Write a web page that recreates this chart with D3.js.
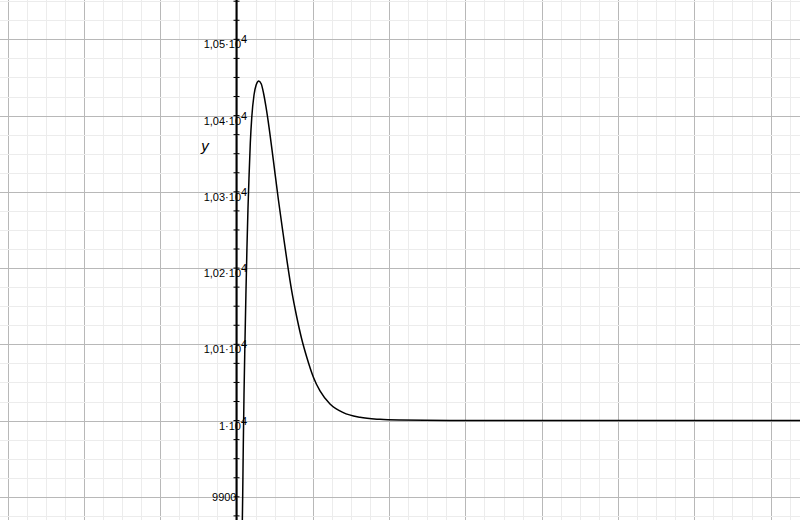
<!DOCTYPE html>
<html>
<head>
<meta charset="utf-8">
<script src="https://cdn.jsdelivr.net/npm/d3@7"></script>
<style>
  body { margin: 0; background: #fff; }
  svg { display: block; }
  text { font-family: "Liberation Sans", Arial, sans-serif; }
</style>
</head>
<body>
<div id="chart"></div>
<script>
// curve (x in grid units, y in value units)
const xs = [0.0747, 0.0813, 0.0891, 0.0983, 0.1101, 0.1232, 0.1363, 0.1507, 0.1651, 0.1809,
            0.2005, 0.2294, 0.2595, 0.2923, 0.3250, 0.3539, 0.3866, 0.4260, 0.4823, 0.5478,
            0.6134, 0.6658, 0.7235, 0.7890, 0.8545, 0.9201, 1.0066, 1.0944, 1.2254, 1.3997,
            1.6186, 1.8807, 2.1429, 2.798, 3.5, 5, 7.4];
const ys = [9856.5, 9902.4, 9968, 10033.6, 10099.1, 10164.7, 10223.7, 10278.8, 10322.1, 10364.1,
            10398.2, 10427, 10440.8, 10445.4, 10441.4, 10429.6, 10411.3, 10385, 10341.8, 10290.6,
            10243.4, 10206.7, 10170, 10136.2, 10107, 10083.4, 10057.2, 10038.8, 10021.8, 10010.5,
            10004.3, 10001.6, 10000.7, 10000.1, 10000, 10000, 10000];
const yTicks = [9900, 10000, 10100, 10200, 10300, 10400, 10500];

const width = 800, height = 520;

const svg = d3.select("#chart").append("svg")
  .attr("width", width)
  .attr("height", height);

const x = d3.scaleLinear().domain([-3.0996, 7.3853]).range([0, width]);
const y = d3.scaleLinear().domain([9869.6, 10551.6]).range([height, 0]);

// grid: 4 minor steps per major step
const grid = svg.append("g").attr("shape-rendering", "crispEdges");
grid.selectAll(".v")
  .data(d3.range(-3, 7.5, 0.25))
  .enter().append("line")
  .attr("x1", d => Math.round(x(d)) + 0.5).attr("x2", d => Math.round(x(d)) + 0.5)
  .attr("y1", 0).attr("y2", height)
  .attr("stroke", d => Number.isInteger(d) ? "#b8b8b8" : "#ececec");
grid.selectAll(".h")
  .data(d3.range(9875, 10551, 25))
  .enter().append("line")
  .attr("y1", d => Math.round(y(d)) + 0.5).attr("y2", d => Math.round(y(d)) + 0.5)
  .attr("x1", 0).attr("x2", width)
  .attr("stroke", d => d % 100 === 0 ? "#b8b8b8" : "#ececec");

// y axis with small crossing ticks
const axisX = x(0);
svg.append("line")
  .attr("x1", axisX).attr("x2", axisX)
  .attr("y1", 0).attr("y2", height)
  .attr("stroke", "#000").attr("stroke-width", 2);
svg.selectAll(".tick")
  .data(d3.range(9875, 10551, 25))
  .enter().append("line")
  .attr("x1", axisX - 3).attr("x2", axisX + 3)
  .attr("y1", d => y(d)).attr("y2", d => y(d))
  .attr("stroke", "#000").attr("stroke-width", 1);

// tick labels
const labels = svg.selectAll(".lab")
  .data(yTicks)
  .enter().append("g")
  .attr("transform", d => `translate(0,${y(d)})`);

labels.each(function(d) {
  const g = d3.select(this);
  if (d < 10000) {
    g.append("text").attr("x", axisX).attr("y", 4)
      .attr("text-anchor", "end").attr("font-size", 11).text(d);
  } else {
    const m = d / 10000;
    const mant = m === 1 ? "1" : m.toFixed(2).replace(".", ",");
    g.append("text").attr("x", axisX + 4.5).attr("y", 9)
      .attr("text-anchor", "end").attr("font-size", 11).text(mant + "·10");
    g.append("text").attr("x", axisX + 4.5).attr("y", 4)
      .attr("font-size", 11).text("4");
  }
});

svg.append("text")
  .attr("x", 205).attr("y", 151)
  .attr("text-anchor", "middle")
  .attr("font-family", "'Liberation Serif', 'DejaVu Serif', serif")
  .attr("font-style", "italic")
  .attr("font-size", 15)
  .text("y");

const line = d3.line()
  .x((d, i) => x(xs[i]))
  .y((d, i) => y(ys[i]))
  .curve(d3.curveMonotoneX);

svg.append("path")
  .datum(xs)
  .attr("fill", "none")
  .attr("stroke", "#000")
  .attr("stroke-width", 1.5)
  .attr("d", line);
</script>
</body>
</html>
